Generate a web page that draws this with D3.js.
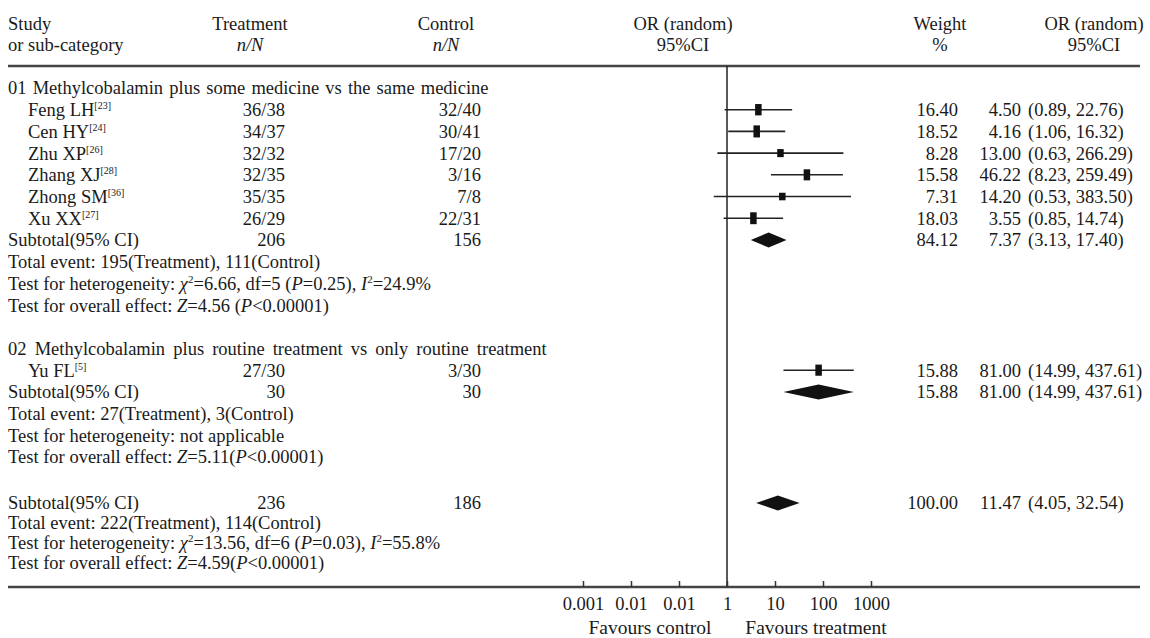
<!DOCTYPE html>
<html><head><meta charset="utf-8">
<script src="https://cdn.jsdelivr.net/npm/d3@7"></script>
<style>
body{margin:0;background:#fff;}
svg text{font-family:"Liberation Serif","Times New Roman",serif;fill:#1a1a1a;}
</style></head>
<body>
<script>
// ---------- data ----------
const studies   = ["Feng LH","Cen HY","Zhu XP","Zhang XJ","Zhong SM","Xu XX","Yu FL"];
const refs      = ["[23]","[24]","[26]","[28]","[36]","[27]","[5]"];
const studyRow  = [1,2,3,4,5,6,13];
const trtEvents = [36,34,32,32,35,26,27];
const trtTotal  = [38,37,32,35,35,29,30];
const ctlEvents = [32,30,17,3,7,22,3];
const ctlTotal  = [40,41,20,16,8,31,30];
const weights   = [16.40,18.52,8.28,15.58,7.31,18.03,15.88];
const orVals    = [4.50,4.16,13.00,46.22,14.20,3.55,81.00];
const ciLow     = [0.89,1.06,0.63,8.23,0.53,0.85,14.99];
const ciHigh    = [22.76,16.32,266.29,259.49,383.50,14.74,437.61];

const subRow    = [7,14,19];
const subTrt    = [206,30,236];
const subCtl    = [156,30,186];
const subWeight = [84.12,15.88,100.00];
const subOR     = [7.37,81.00,11.47];
const subLow    = [3.13,14.99,4.05];
const subHigh   = [17.40,437.61,32.54];

const groupTitles = ["01 Methylcobalamin plus some medicine vs the same medicine",
                     "02 Methylcobalamin plus routine treatment vs only routine treatment"];
const groupRow    = [0,12];

// footnote lines: [row, segments] ; segment style: "" normal, "i" italic, "s" superscript
const notes = [
 [8,  [["Total event: 195(Treatment), 111(Control)",""]]],
 [9,  [["Test for heterogeneity: ",""],["χ","i"],["2","s"],["=6.66, df=5 (",""],["P","i"],["=0.25), ",""],["I","i"],["2","s"],["=24.9%",""]]],
 [10, [["Test for overall effect: ",""],["Z","i"],["=4.56 (",""],["P","i"],["<0.00001)",""]]],
 [15, [["Total event: 27(Treatment), 3(Control)",""]]],
 [16, [["Test for heterogeneity: not applicable",""]]],
 [17, [["Test for overall effect: ",""],["Z","i"],["=5.11(",""],["P","i"],["<0.00001)",""]]],
 [20, [["Total event: 222(Treatment), 114(Control)",""]]],
 [21, [["Test for heterogeneity: ",""],["χ","i"],["2","s"],["=13.56, df=6 (",""],["P","i"],["=0.03), ",""],["I","i"],["2","s"],["=55.8%",""]]],
 [22, [["Test for overall effect: ",""],["Z","i"],["=4.59(",""],["P","i"],["<0.00001)",""]]]
];

const tickValues = [0.001,0.01,0.1,1,10,100,1000];
const tickLabels = ["0.001","0.01","0.01","1","10","100","1000"];

// ---------- layout ----------
const W = 1150, H = 638, FS = 18.5;
const svg = d3.select("body").append("svg").attr("width",W).attr("height",H);
svg.append("rect").attr("width",W).attr("height",H).attr("fill","#fff");

const y = d3.scaleLinear().domain([0,17,19,22]).range([88,457,503,563]);
const x = d3.scaleLog().domain([0.001,1000]).range([727-3*48, 727+3*48]);
const lineTop = 66, axisY = 587;
const colTrt = 285, colCtl = 481, colW = 958, colOR = 1021, colCI = 1028;

function txt(xp, yp, s, anchor){
  return svg.append("text").attr("x",xp).attr("y",yp).attr("dy","0.35em")
    .attr("font-size",FS).attr("text-anchor",anchor||"start").text(s);
}
function rich(xp, yp, segs){
  const t = svg.append("text").attr("x",xp).attr("y",yp).attr("dy","0.35em").attr("font-size",FS);
  let up = false;
  segs.forEach(([s,st])=>{
    const ts = t.append("tspan").text(s);
    if(st==="i") ts.attr("font-style","italic");
    if(st==="s"){ ts.attr("font-size",11).attr("dy",-7); up = true; }
    else if(up){ ts.attr("dy",7); up = false; }
  });
  return t;
}

// header
txt(8,24,"Study"); txt(8,45,"or sub-category");
txt(250,24,"Treatment","middle"); txt(250,45,"n/N","middle").attr("font-style","italic");
txt(446,24,"Control","middle"); txt(446,45,"n/N","middle").attr("font-style","italic");
txt(683,24,"OR (random)","middle"); txt(683,45,"95%CI","middle");
txt(940,24,"Weight","middle"); txt(940,45,"%","middle");
txt(1094,24,"OR (random)","middle"); txt(1094,45,"95%CI","middle");

// rules
svg.append("line").attr("x1",8).attr("x2",1140).attr("y1",lineTop).attr("y2",lineTop)
  .attr("stroke","#444").attr("stroke-width",2.5);
svg.append("line").attr("x1",8).attr("x2",1140).attr("y1",axisY).attr("y2",axisY)
  .attr("stroke","#444").attr("stroke-width",2.5);
svg.append("line").attr("x1",x(1)).attr("x2",x(1)).attr("y1",lineTop).attr("y2",axisY)
  .attr("stroke","#222").attr("stroke-width",1.5);

// group titles
groupTitles.forEach((g,i)=>txt(8,y(groupRow[i]),g).attr("word-spacing",i===0?1.5:3.5));

// studies
const fmt2 = d3.format(".2f");
studies.forEach((s,i)=>{
  const yy = y(studyRow[i]);
  const t = svg.append("text").attr("x",28).attr("y",yy).attr("dy","0.35em").attr("font-size",FS);
  t.append("tspan").text(s);
  t.append("tspan").text(refs[i]).attr("font-size",10).attr("dy",-7);
  txt(colTrt,yy,trtEvents[i]+"/"+trtTotal[i],"end");
  txt(colCtl,yy,ctlEvents[i]+"/"+ctlTotal[i],"end");
  txt(colW,yy,fmt2(weights[i]),"end");
  txt(colOR,yy,fmt2(orVals[i]),"end");
  txt(colCI,yy,"("+fmt2(ciLow[i])+", "+fmt2(ciHigh[i])+")");
  svg.append("line").attr("x1",x(ciLow[i])).attr("x2",x(ciHigh[i])).attr("y1",yy).attr("y2",yy)
    .attr("stroke","#222").attr("stroke-width",1.6);
  const h = 2.8*Math.sqrt(weights[i]), w = Math.min(h,6.5);
  svg.append("rect").attr("x",x(orVals[i])-w/2).attr("y",yy-h/2).attr("width",w).attr("height",h)
    .attr("fill","#111");
});

// subtotals
subRow.forEach((r,i)=>{
  const yy = y(r);
  txt(8,yy,"Subtotal(95% CI)");
  txt(colTrt,yy,subTrt[i],"end");
  txt(colCtl,yy,subCtl[i],"end");
  txt(colW,yy,fmt2(subWeight[i]),"end");
  txt(colOR,yy,fmt2(subOR[i]),"end");
  txt(colCI,yy,"("+fmt2(subLow[i])+", "+fmt2(subHigh[i])+")");
  const hh = 7.5;
  svg.append("path")
    .attr("d",`M${x(subLow[i])},${yy}L${x(subOR[i])},${yy-hh}L${x(subHigh[i])},${yy}L${x(subOR[i])},${yy+hh}Z`)
    .attr("fill","#111");
});

// notes
notes.forEach(([r,segs])=>rich(8,y(r),segs));

// axis
const axis = d3.axisBottom(x).tickValues(tickValues).tickSize(-6).tickPadding(10)
  .tickFormat((d,i)=>tickLabels[i]);
const ag = svg.append("g").attr("transform",`translate(0,${axisY})`).call(axis);
ag.select(".domain").remove();
ag.selectAll(".tick line").attr("stroke","#333").attr("stroke-width",1.5);
ag.selectAll(".tick text").attr("font-size",FS).attr("fill","#1a1a1a")
  .attr("font-family","Liberation Serif, Times New Roman, serif");

txt(650,627,"Favours control","middle").attr("font-size",19.5);
txt(816,627,"Favours treatment","middle").attr("font-size",19.5);
</script>
</body></html>
